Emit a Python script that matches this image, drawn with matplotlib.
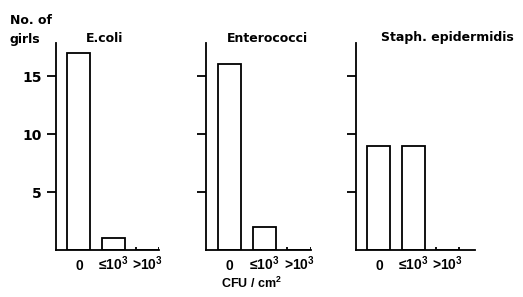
import numpy as np
import matplotlib
matplotlib.use("Agg")
import matplotlib.pyplot as plt

# data
categories = ["0", "≤10$^3$", ">10$^3$"]
titles = ["E.coli", "Enterococci", "Staph. epidermidis"]
ecoli = [17, 1, 0]
enterococci = [16, 2, 0]
staph = [9, 9, 0]
yticks = [5, 10, 15]

W, H = 523, 297
fig = plt.figure(figsize=(W / 100, H / 100), dpi=100)

# axes boxes in pixels: left, right, top, bottom
boxes = [(56, 159, 43, 250), (206, 311, 43, 250), (356, 475, 43, 250)]
xmax = [2.34, 2.34, 2.80]
series = [ecoli, enterococci, staph]
title_x = [105, 267, 447]

plt.rcParams['font.family'] = ['DejaVu Sans']
plt.rcParams['font.weight'] = 'bold'
plt.rcParams['mathtext.fontset'] = 'custom'
plt.rcParams['mathtext.rm'] = 'Liberation Sans:bold'
plt.rcParams['mathtext.default'] = 'rm'
narrow = ['Liberation Sans', 'DejaVu Sans']
x = np.arange(len(categories))
width = 0.67
lw = 1.3

for i, (vals, box) in enumerate(zip(series, boxes)):
    l, r, t, b = box
    ax = fig.add_axes([l / W, 1 - b / H, (r - l) / W, (b - t) / H])
    ax.bar(x, vals, width=width, facecolor="white", edgecolor="black", linewidth=lw)
    # small upright marks where a bar has zero height
    for xi, v in zip(x, vals):
        if v == 0:
            ax.vlines([xi - width / 2, xi + width / 2], 0, 0.3, color="black", linewidth=lw)
    ax.set_xlim(-0.67, xmax[i])
    ax.set_ylim(0, 17.85)
    ax.set_yticks(yticks)
    ax.set_xticks(x)
    ax.set_xticklabels(categories, fontsize=10, family=narrow, fontweight='bold', va='baseline')
    ax.tick_params(axis="x", length=0, pad=14.5)
    ax.tick_params(axis="y", length=6.5, width=lw, direction="out", labelsize=10)
    if i > 0:
        ax.set_yticklabels([])
    for s in ["top", "right"]:
        ax.spines[s].set_visible(False)
    for s in ["left", "bottom"]:
        ax.spines[s].set_linewidth(lw)
    fig.text(title_x[i] / W, 1 - 38 / H, titles[i], ha="center", va="center", fontsize=9)

fig.text(10 / W, 1 - 20 / H, "No. of", ha="left", va="center", fontsize=9)
fig.text(10 / W, 1 - 39 / H, "girls", ha="left", va="center", fontsize=9)
fig.text(251 / W, 1 - 283 / H, "CFU / cm$^2$", ha="center", va="center", fontsize=9, family=narrow)

fig.savefig("out.png", dpi=100)
